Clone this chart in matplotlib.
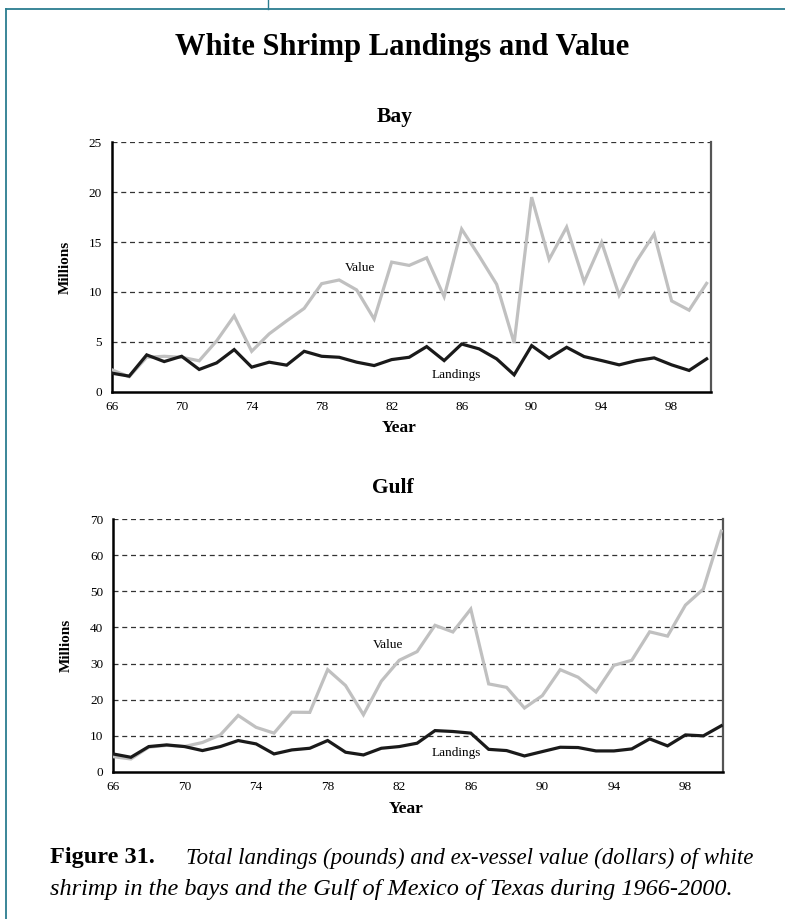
import matplotlib
matplotlib.use("Agg")
import matplotlib.pyplot as plt
from matplotlib.lines import Line2D

years = list(range(1966, 2001))
tick_years = [1966, 1970, 1974, 1978, 1982, 1986, 1990, 1994, 1998]
tick_labels = ["66", "70", "74", "78", "82", "86", "90", "94", "98"]

bay_landings = [1.86, 1.56, 3.69, 3.02, 3.55, 2.23, 2.89, 4.22, 2.46, 2.96,
                2.66, 4.05, 3.55, 3.45, 2.96, 2.62, 3.22, 3.45, 4.52, 3.12,
                4.78, 4.29, 3.29, 1.69, 4.62, 3.36, 4.45, 3.52, 3.12, 2.69,
                3.12, 3.39, 2.69, 2.13, 3.29]
bay_value = [2.2, 1.5, 3.45, 3.55, 3.45, 3.1, 5.1, 7.6, 4.05, 5.8,
             7.1, 8.35, 10.83, 11.2, 10.2, 7.28, 12.99, 12.66, 13.42, 9.53,
             16.3, 13.6, 10.76, 4.88, 19.5, 13.26, 16.5, 11.0, 14.98, 9.67,
             13.1, 15.8, 9.1, 8.17, 10.86]

gulf_landings = [4.93, 4.0, 6.97, 7.43, 6.97, 5.86, 6.97, 8.64, 7.71, 4.93,
                 6.04, 6.5, 8.64, 5.4, 4.65, 6.5, 6.97, 7.9, 11.4, 11.15,
                 10.7, 6.2, 5.86, 4.37, 5.58, 6.78, 6.7, 5.76, 5.76, 6.32,
                 9.1, 7.16, 10.2, 9.94, 12.73]
gulf_value = [4.18, 3.53, 6.8, 7.3, 7.0, 8.1, 10.2, 15.6, 12.3, 10.7,
              16.5, 16.45, 28.3, 23.9, 15.8, 25.1, 30.9, 33.3, 40.6, 38.75,
              45.1, 24.35, 23.4, 17.66, 21.1, 28.3, 26.2, 22.1, 29.5, 30.9,
              38.8, 37.6, 46.2, 50.65, 66.7]

W, H = 785, 919
SERIF = "Liberation Serif"
GRAY = "#c0c0c0"
TEAL = "#2b7d90"

fig = plt.figure(figsize=(W / 100, H / 100), dpi=100)
fig.patch.set_facecolor("white")


def px_axes(left, top, right, bottom):
    return fig.add_axes([left / W, 1 - bottom / H, (right - left) / W, (bottom - top) / H])


def draw_panel(ax, landings, value, ymax, ystep, xmax, val_pos, land_pos):
    ax.plot(years, value, color=GRAY, lw=2.3, solid_joinstyle="miter", zorder=3)
    ax.plot(years, landings, color="#1a1a1a", lw=2.3, solid_joinstyle="miter", zorder=4)
    ax.set_xlim(1966, xmax)
    ax.set_ylim(0, ymax)
    ax.set_yticks(range(0, ymax + 1, ystep))
    ax.set_xticks(tick_years)
    ax.set_xticklabels(tick_labels)
    for y in range(ystep, ymax + 1, ystep):
        ax.axhline(y, color="#333333", lw=0.9, ls=(0, (4, 3)), zorder=1)
    ax.tick_params(length=0, labelsize=9.5, pad=7)
    for lab in ax.get_xticklabels() + ax.get_yticklabels():
        lab.set_fontfamily(SERIF)
    ax.spines["top"].set_visible(False)
    ax.spines["left"].set_linewidth(1.8)
    ax.spines["bottom"].set_linewidth(1.8)
    ax.spines["right"].set_linewidth(1.6)
    ax.spines["right"].set_color("#555555")
    ax.set_ylabel("Millions", fontfamily=SERIF, fontweight="bold", fontsize=11, labelpad=12)
    ax.set_xlabel("Year", fontfamily=SERIF, fontweight="bold", fontsize=12.5, labelpad=0)
    ax.xaxis.set_label_coords(0.48, -0.115)
    ax.text(val_pos[0], val_pos[1], "Value", fontfamily=SERIF, fontsize=9.5, ha="center", va="center")
    ax.text(land_pos[0], land_pos[1], "Landings", fontfamily=SERIF, fontsize=9.5, ha="center", va="center")


# Bay
ax1 = px_axes(111.7, 142.3, 711, 391.7)
draw_panel(ax1, bay_landings, bay_value, 25, 5, 2000.25, (1980.2, 12.4), (1985.7, 1.7))

# Gulf
ax2 = px_axes(113, 519.3, 723, 771.7)
draw_panel(ax2, gulf_landings, gulf_value, 70, 10, 2000.1, (1981.4, 35.1), (1985.2, 5.2))

# titles
fig.text(402 / W, 1 - 47 / H, "White Shrimp Landings and Value", fontfamily=SERIF,
         fontweight="bold", fontsize=22, ha="center", va="center")
fig.text(395 / W, 1 - 117 / H, "Bay", fontfamily=SERIF, fontweight="bold", fontsize=15.5,
         ha="center", va="center")
fig.text(393 / W, 1 - 488 / H, "Gulf", fontfamily=SERIF, fontweight="bold", fontsize=15.5,
         ha="center", va="center")

# caption
fig.text(50 / W, 1 - 858 / H, "Figure 31.", fontfamily=SERIF, fontweight="bold", fontsize=17.5,
         ha="left", va="center")
fig.text(186 / W, 1 - 858 / H, "Total landings (pounds) and ex-vessel value (dollars) of white",
         fontfamily=SERIF, fontstyle="italic", fontsize=16.5, ha="left", va="center")
fig.text(50 / W, 1 - 889 / H, "shrimp in the bays and the Gulf of Mexico of Texas during 1966-2000.",
         fontfamily=SERIF, fontstyle="italic", fontsize=17.5, ha="left", va="center")

# page frame
fig.add_artist(Line2D([5.7 / W, 1], [1 - 9 / H, 1 - 9 / H], color=TEAL, lw=1.3, transform=fig.transFigure))
fig.add_artist(Line2D([5.7 / W, 5.7 / W], [0, 1 - 9 / H], color=TEAL, lw=1.3, transform=fig.transFigure))
fig.add_artist(Line2D([267.7 / W, 267.7 / W], [1 - 9 / H, 1], color=TEAL, lw=1.0, transform=fig.transFigure))

fig.savefig("out.png", dpi=100)
